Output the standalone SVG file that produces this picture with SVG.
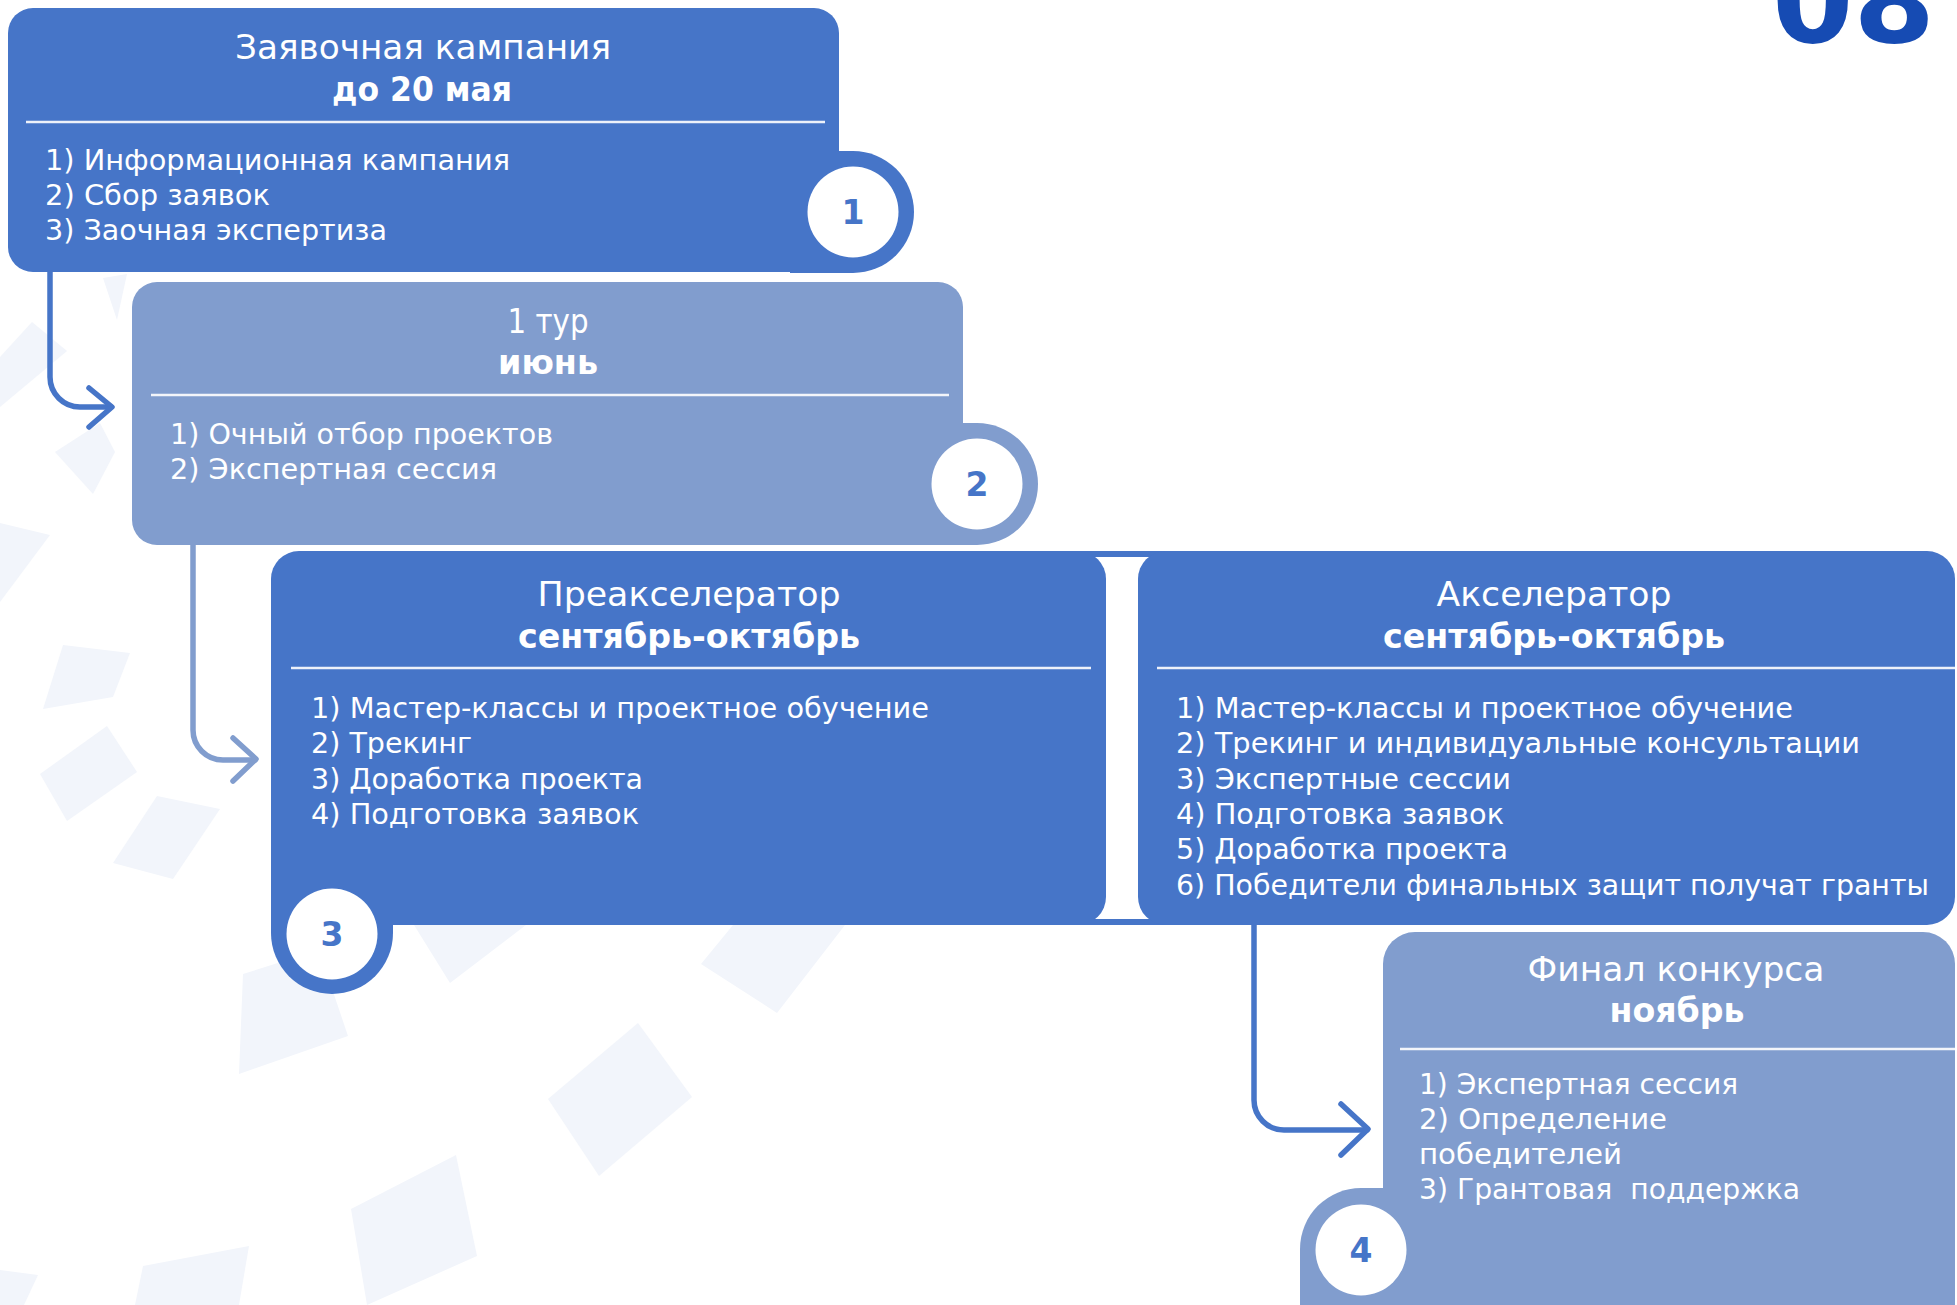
<svg xmlns="http://www.w3.org/2000/svg" width="1957" height="1305" viewBox="0 0 1957 1305">
<style>
.dark{fill:#4675C8}
.light{fill:#819DCE}
.bg{fill:#F2F5FB}
.div{stroke:#FFFFFF;stroke-width:2.5;stroke-opacity:0.9}
.ttl{font-family:"DejaVu Sans","Liberation Sans",sans-serif;font-size:33px;fill:#FFFFFF;text-anchor:middle}
.bold{font-family:"DejaVu Sans","Liberation Sans",sans-serif;font-size:33px;font-weight:bold;fill:#FFFFFF;text-anchor:middle}
.li{font-family:"DejaVu Sans","Liberation Sans",sans-serif;font-size:28px;fill:#FFFFFF}
.num{font-family:"DejaVu Sans","Liberation Sans",sans-serif;font-size:33px;font-weight:bold;fill:#4675C8;text-anchor:middle}
.arrD{fill:none;stroke:#4675C8;stroke-width:5.5;stroke-linecap:round;stroke-linejoin:round}
.arrL{fill:none;stroke:#819DCE;stroke-width:5.5;stroke-linecap:round;stroke-linejoin:round}
</style>
<rect width="1957" height="1305" fill="#FFFFFF"/>
<g id="background">
<polygon class="bg" points="239,1074 243,974 319,950 348,1036"/>
<polygon class="bg" points="548,1099 638,1023 692,1097 599,1176"/>
<polygon class="bg" points="414,925 526,925 450,983"/>
<polygon class="bg" points="733,925 845,925 777,1013 701,964"/>
<polygon class="bg" points="351,1209 456,1155 477,1256 367,1305"/>
<polygon class="bg" points="143,1266 249,1246 239,1305 135,1305"/>
<polygon class="bg" points="0,1270 38,1275 24,1305 0,1305"/>
<polygon class="bg" points="55,452 100,423 115,452 93,494"/>
<polygon class="bg" points="0,523 50,535 0,602"/>
<polygon class="bg" points="43,709 63,645 130,653 113,697"/>
<polygon class="bg" points="40,774 107,726 137,772 67,821"/>
<polygon class="bg" points="113,863 157,796 220,809 173,879"/>
<polygon class="bg" points="0,357 32,322 67,351 0,407"/>
<polygon class="bg" points="103,278 127,274 117,320"/>
</g>
<text x="1772" y="42" font-family="DejaVu Sans, Liberation Sans, sans-serif" font-size="115" font-weight="bold" fill="#164BB3" textLength="163" lengthAdjust="spacingAndGlyphs">08</text>
<g id="connectors">
<path class="arrD" d="M50,272 V377 A30,30 0 0 0 80,407 H111"/>
<path class="arrD" d="M89,388 L112,407 L89,427"/>
<path class="arrL" d="M193,545 V730 A30,30 0 0 0 223,760 H255"/>
<path class="arrL" d="M233,738 L256,759 L233,781"/>
<path class="arrD" d="M1254,925 V1100 A30,30 0 0 0 1284,1130 H1367"/>
<path class="arrD" d="M1341,1104 L1368,1129 L1341,1155"/>
</g>
<g id="node-1">
<rect class="dark" x="8" y="8" width="831" height="264" rx="25"/>
<path class="dark" d="M790,151 H853 A61,61 0 0 1 914,212 A61,61 0 0 1 853,273 H790 Z"/>
<circle cx="853" cy="212" r="45.5" fill="#FFFFFF"/>
<text class="num" x="853" y="224">1</text>
<text class="ttl" x="423" y="59" textLength="376" lengthAdjust="spacingAndGlyphs">Заявочная кампания</text>
<text class="bold" x="422" y="101" textLength="180" lengthAdjust="spacingAndGlyphs">до 20 мая</text>
<line class="div" x1="26" y1="122" x2="825" y2="122"/>
<text class="li" x="45" y="170" textLength="465" lengthAdjust="spacingAndGlyphs">1) Информационная кампания</text>
<text class="li" x="45" y="205" textLength="225" lengthAdjust="spacingAndGlyphs">2) Сбор заявок</text>
<text class="li" x="45" y="240" textLength="342" lengthAdjust="spacingAndGlyphs">3) Заочная экспертиза</text>
</g>
<g id="node-2">
<rect class="light" x="132" y="282" width="831" height="263" rx="25"/>
<path class="light" d="M900,423 H977 A61,61 0 0 1 1038,484 A61,61 0 0 1 977,545 H900 Z"/>
<circle cx="977" cy="484" r="45.5" fill="#FFFFFF"/>
<text class="num" x="977" y="496">2</text>
<text class="ttl" x="548" y="333" textLength="81" lengthAdjust="spacingAndGlyphs">1 тур</text>
<text class="bold" x="548" y="374" textLength="100" lengthAdjust="spacingAndGlyphs">июнь</text>
<line class="div" x1="151" y1="395" x2="949" y2="395"/>
<text class="li" x="170" y="444" textLength="383" lengthAdjust="spacingAndGlyphs">1) Очный отбор проектов</text>
<text class="li" x="170" y="479" textLength="327" lengthAdjust="spacingAndGlyphs">2) Экспертная сессия</text>
</g>
<g id="node-3">
<rect class="dark" x="271" y="551" width="835" height="374" rx="28"/>
<path class="dark" d="M271,870 H393 V933 A61,61 0 0 1 332,994 A61,61 0 0 1 271,933 Z"/>
<circle cx="332" cy="934" r="45.5" fill="#FFFFFF"/>
<text class="num" x="332" y="946">3</text>
<text class="ttl" x="689" y="606" textLength="303" lengthAdjust="spacingAndGlyphs">Преакселератор</text>
<text class="bold" x="689" y="648" textLength="342" lengthAdjust="spacingAndGlyphs">сентябрь-октябрь</text>
<line class="div" x1="291" y1="668" x2="1091" y2="668"/>
<text class="li" x="311" y="718" textLength="618" lengthAdjust="spacingAndGlyphs">1) Мастер-классы и проектное обучение</text>
<text class="li" x="311" y="753" textLength="161" lengthAdjust="spacingAndGlyphs">2) Трекинг</text>
<text class="li" x="311" y="789" textLength="332" lengthAdjust="spacingAndGlyphs">3) Доработка проекта</text>
<text class="li" x="311" y="824" textLength="328" lengthAdjust="spacingAndGlyphs">4) Подготовка заявок</text>
</g>
<g id="node-bridge">
<rect class="dark" x="1070" y="551" width="100" height="6"/>
<rect class="dark" x="1070" y="919" width="100" height="6"/>
</g>
<g id="node-4">
<rect class="dark" x="1138" y="551" width="817" height="374" rx="28"/>
<text class="ttl" x="1554" y="606" textLength="235" lengthAdjust="spacingAndGlyphs">Акселератор</text>
<text class="bold" x="1554" y="648" textLength="342" lengthAdjust="spacingAndGlyphs">сентябрь-октябрь</text>
<line class="div" x1="1157" y1="668" x2="1955" y2="668"/>
<text class="li" x="1176" y="718" textLength="617" lengthAdjust="spacingAndGlyphs">1) Мастер-классы и проектное обучение</text>
<text class="li" x="1176" y="753" textLength="684" lengthAdjust="spacingAndGlyphs">2) Трекинг и индивидуальные консультации</text>
<text class="li" x="1176" y="789" textLength="335" lengthAdjust="spacingAndGlyphs">3) Экспертные сессии</text>
<text class="li" x="1176" y="824" textLength="328" lengthAdjust="spacingAndGlyphs">4) Подготовка заявок</text>
<text class="li" x="1176" y="859" textLength="332" lengthAdjust="spacingAndGlyphs">5) Доработка проекта</text>
<text class="li" x="1176" y="895" textLength="753" lengthAdjust="spacingAndGlyphs">6) Победители финальных защит получат гранты</text>
</g>
<g id="node-5">
<rect class="light" x="1383" y="932" width="572" height="420" rx="32"/>
<path class="light" d="M1361,1188 A61,61 0 0 0 1300,1249 V1320 H1420 V1188 Z"/>
<circle cx="1361" cy="1250" r="45.5" fill="#FFFFFF"/>
<text class="num" x="1361" y="1262">4</text>
<text class="ttl" x="1676" y="981" textLength="297" lengthAdjust="spacingAndGlyphs">Финал конкурса</text>
<text class="bold" x="1677" y="1022" textLength="135" lengthAdjust="spacingAndGlyphs">ноябрь</text>
<line class="div" x1="1400" y1="1049" x2="1957" y2="1049"/>
<text class="li" x="1419" y="1094" textLength="319" lengthAdjust="spacingAndGlyphs">1) Экспертная сессия</text>
<text class="li" x="1419" y="1129" textLength="248" lengthAdjust="spacingAndGlyphs">2) Определение</text>
<text class="li" x="1419" y="1164" textLength="203" lengthAdjust="spacingAndGlyphs">победителей</text>
<text class="li" x="1419" y="1199" textLength="381" lengthAdjust="spacingAndGlyphs" xml:space="preserve">3) Грантовая  поддержка</text>
</g>
</svg>
